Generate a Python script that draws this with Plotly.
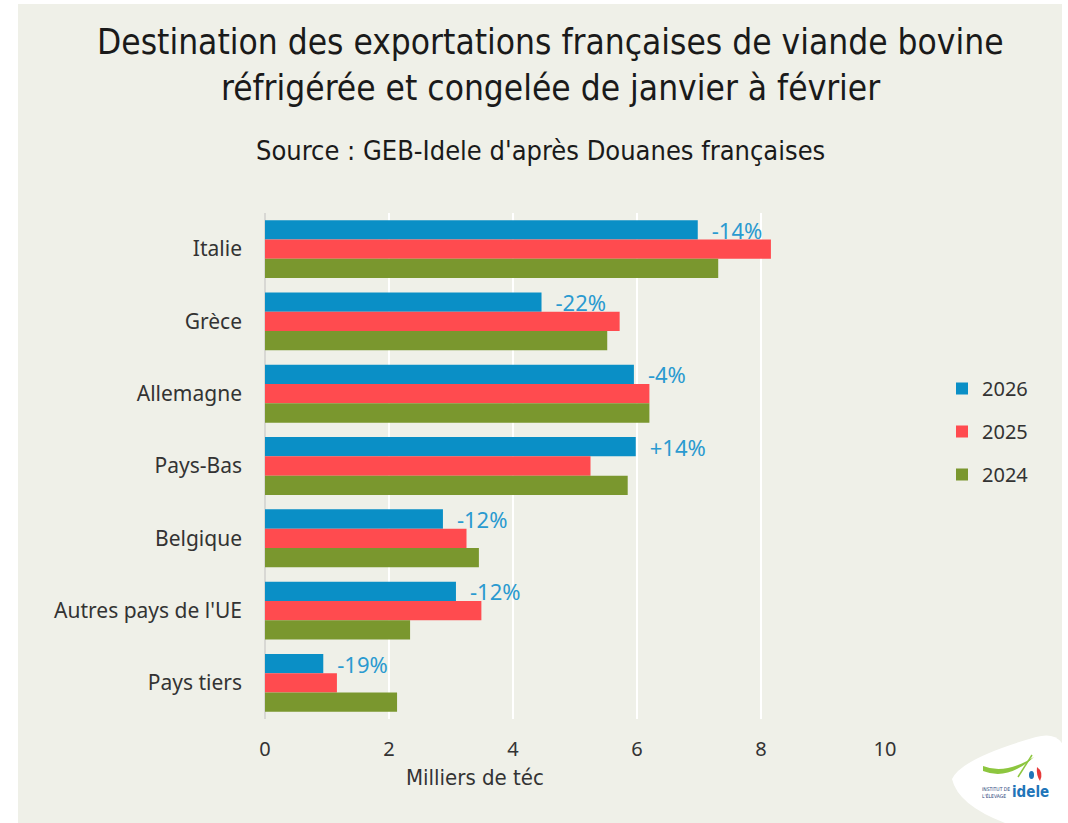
import plotly.graph_objects as go

# Destinations (top to bottom) and volumes in thousand tonnes carcass equivalent
countries = ["Italie", "Grèce", "Allemagne", "Pays-Bas", "Belgique",
             "Autres pays de l'UE", "Pays tiers"]
years = ["2026", "2025", "2024"]
v2026 = [6.98, 4.46, 5.95, 5.98, 2.87, 3.08, 0.94]
v2025 = [8.16, 5.72, 6.20, 5.25, 3.25, 3.49, 1.16]
v2024 = [7.31, 5.52, 6.20, 5.85, 3.45, 2.34, 2.13]
changes = ["-14%", "-22%", "-4%", "+14%", "-12%", "-12%", "-19%"]
x_ticks = [0, 2, 4, 6, 8, 10]

colors = {"2026": "#0A8FC6", "2025": "#FF4B4F", "2024": "#7A972E"}
label_color = "#2A9AD0"
bg = "#EFF0E8"
narrow = "Liberation Sans Narrow, DejaVu Sans Condensed, sans-serif"
body = "Noto Sans, Lato, sans-serif"

W, H = 1068, 823
L, R, T, B = 265, 885, 213, 719


def px(x):
    return (x - L) / (R - L)


def py(y):
    return (B - y) / (B - T)


fig = go.Figure()
series = {"2026": v2026, "2025": v2025, "2024": v2024}
for yr in years:
    fig.add_trace(go.Bar(
        y=countries, x=series[yr], orientation="h", name=yr,
        legendgroup=yr,
        marker=dict(color=colors[yr], line=dict(width=0)),
        text=["\u2002" + c for c in changes] if yr == "2026" else None,
        textposition="outside" if yr == "2026" else None,
        constraintext="none",
        textfont=dict(family=body, size=22, color=label_color),
        cliponaxis=False,
        hoverinfo="x+name",
    ))

shapes = [
    # panel background
    dict(type="rect", xref="paper", yref="paper", layer="below",
         x0=px(18), x1=px(1062), y0=py(823), y1=py(4),
         fillcolor=bg, line=dict(width=0)),
    # logo badge
    dict(type="path", xref="paper", yref="paper", layer="above",
         path=("M {a},{b} Q {c},{d} {e},{f} Q {g},{h} {i},{j} L {i},{k} L {m},{k} Q {n},{o} {a},{b} Z").format(
             a=px(952), b=py(779), c=px(962), d=py(758), e=px(1036), f=py(737),
             g=px(1068), h=py(728), i=px(1068), j=py(770), k=py(823), m=px(1005),
             n=px(958), o=py(805)),
         fillcolor="white", line=dict(width=0)),
    # logo swoosh
    dict(type="path", xref="paper", yref="paper", layer="above",
         path="M {a},{b} Q {c},{d} {e},{f} Q {g},{h} {a2},{b2} Z".format(
             a=px(983), b=py(766), c=px(1005), d=py(775), e=px(1034), f=py(757),
             g=px(1008), h=py(781), a2=px(983), b2=py(771)),
         fillcolor="#8DC63F", line=dict(width=0)),
    dict(type="path", xref="paper", yref="paper", layer="above",
         path="M {a},{b} L {c},{d}".format(a=px(1018), b=py(777), c=px(1032), d=py(755)),
         line=dict(color="#8DC63F", width=1.5)),
    dict(type="circle", xref="paper", yref="paper", layer="above",
         x0=px(1029), x1=px(1034), y0=py(779), y1=py(771),
         fillcolor="#1F75B9", line=dict(width=0)),
    dict(type="path", xref="paper", yref="paper", layer="above",
         path="M {a},{b} Q {c},{d} {e},{f} Q {g},{h} {a},{b} Z".format(
             a=px(1037), b=py(767), c=px(1044), d=py(772), e=px(1040), f=py(781),
             g=px(1036), h=py(775)),
         fillcolor="#E63A3A", line=dict(width=0)),
]

annotations = [
    dict(text="Destination des exportations françaises de viande bovine",
         x=px(550), y=py(42), xref="paper", yref="paper", showarrow=False,
         xanchor="center", yanchor="middle",
         font=dict(family=narrow, size=35, color="#1a1a1a")),
    dict(text="réfrigérée et congelée de janvier à février",
         x=px(550), y=py(88), xref="paper", yref="paper", showarrow=False,
         xanchor="center", yanchor="middle",
         font=dict(family=narrow, size=35, color="#1a1a1a")),
    dict(text="Source : GEB-Idele d'après Douanes françaises",
         x=px(540), y=py(150), xref="paper", yref="paper", showarrow=False,
         xanchor="center", yanchor="middle",
         font=dict(family=narrow, size=27, color="#1a1a1a")),
    dict(text="Milliers de téc",
         x=px(475), y=py(777), xref="paper", yref="paper", showarrow=False,
         xanchor="center", yanchor="middle",
         font=dict(family=narrow, size=22, color="#333333")),
    dict(text="INSTITUT DE<br>L'ÉLEVAGE",
         x=px(996), y=py(792), xref="paper", yref="paper", showarrow=False,
         xanchor="center", yanchor="middle", align="left",
         font=dict(family="DejaVu Sans Condensed, sans-serif", size=5, color="#1F3F7A")),
    dict(text="<b>idele</b>",
         x=px(1030), y=py(792), xref="paper", yref="paper", showarrow=False,
         xanchor="center", yanchor="middle",
         font=dict(family="DejaVu Sans Condensed, sans-serif", size=15, color="#1F75B9")),
]

fig.update_layout(
    width=W, height=H,
    margin=dict(l=L, r=W - R, t=T, b=H - B, pad=0),
    paper_bgcolor="white",
    plot_bgcolor="rgba(0,0,0,0)",
    barmode="group",
    bargap=0.2,
    bargroupgap=0,
    font=dict(family=body, color="#333333"),
    showlegend=True,
    legend=dict(
        x=px(942), y=py(369), xref="paper", yref="paper",
        xanchor="left", yanchor="top",
        bgcolor="rgba(0,0,0,0)",
        font=dict(family=body, size=20, color="#333333"),
        tracegroupgap=14,
        itemwidth=30,
    ),
    shapes=shapes,
    annotations=annotations,
    xaxis=dict(
        range=[0, 10], tickvals=x_ticks, showgrid=True, gridcolor="white", gridwidth=2,
        zeroline=True, zerolinecolor="#D8D8D4", zerolinewidth=2,
        showline=False, ticks="", ticklabelstandoff=16,
        tickfont=dict(family=body, size=20, color="#333333"),
        fixedrange=True,
    ),
    yaxis=dict(
        autorange="reversed", showgrid=False, showline=False, ticks="",
        ticklabelstandoff=22,
        tickfont=dict(family=body, size=21, color="#333333"),
        fixedrange=True,
    ),
)

fig.write_html("out.html")
